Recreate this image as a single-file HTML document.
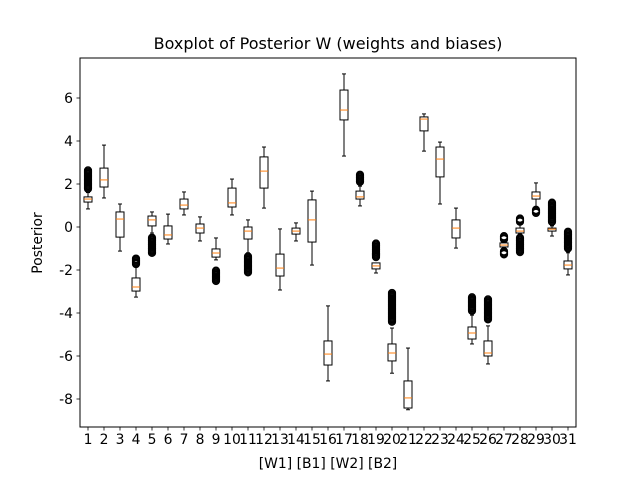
<!DOCTYPE html>
<html><head><meta charset="utf-8"><style>
body{margin:0;background:#fff;}
svg{display:block;font-family:"DejaVu Sans","Liberation Sans",sans-serif;}
</style></head><body>
<svg id="chart" width="640" height="480" xmlns="http://www.w3.org/2000/svg">
<rect width="640" height="480" fill="#fff"/>
<text x="328" y="49" text-anchor="middle" font-size="16">Boxplot of Posterior W (weights and biases)</text>
<text x="328" y="468" text-anchor="middle" font-size="13.9">[W1] [B1] [W2] [B2]</text>
<text transform="translate(42,243) rotate(-90)" text-anchor="middle" font-size="13.9">Posterior</text>
<g id="plot"></g>
<rect x="80" y="58" width="496" height="369" fill="none" stroke="#000" stroke-width="1"/>
</svg>
<script>
const categories = Array.from({length:31},(_,i)=>String(i+1));
const whiskerLo = [0.84,1.35,-1.12,-3.26,-0.28,-0.79,0.56,-0.65,-1.53,0.56,-1.2,0.88,-2.93,-0.65,-1.77,-7.16,3.3,0.98,-2.14,-6.8,-8.5,3.53,1.07,-0.98,-5.44,-6.37,-1.07,-0.33,0.93,-0.42,-2.23];
const q1 = [1.16,1.86,-0.47,-2.98,0.05,-0.56,0.84,-0.28,-1.4,0.93,-0.56,1.81,-2.28,-0.33,-0.7,-6.42,4.98,1.3,-1.95,-6.23,-8.42,4.47,2.33,-0.51,-5.21,-6.0,-0.93,-0.28,1.3,-0.19,-1.95];
const medians = [1.3,2.19,0.37,-2.79,0.33,-0.37,1.02,-0.05,-1.21,1.12,-0.19,2.6,-1.91,-0.19,0.33,-5.91,5.44,1.4,-1.81,-5.86,-7.95,5.02,3.16,-0.05,-4.93,-5.86,-0.84,-0.19,1.44,-0.1,-1.77];
const q3 = [1.4,2.74,0.7,-2.37,0.51,0.05,1.3,0.14,-1.02,1.81,0.0,3.26,-1.26,-0.05,1.26,-5.3,6.37,1.67,-1.67,-5.44,-7.16,5.12,3.72,0.33,-4.65,-5.3,-0.74,-0.05,1.63,-0.05,-1.58];
const whiskerHi = [1.6,3.81,1.07,-1.86,0.7,0.6,1.63,0.47,-0.51,2.23,0.33,3.72,-0.09,0.19,1.67,-3.67,7.12,1.9,-1.7,-4.7,-5.63,5.26,3.95,0.88,-4.1,-4.6,-0.6,0.19,2.05,0.05,-1.2];
const fliersA = [[1.6,2.8],null,null,[-1.9,-1.3],[-1.4,-0.33],null,null,null,[-2.7,-1.86],null,[-2.3,-1.2],null,null,null,null,null,null,[1.9,2.6],[-1.6,-0.6],[-4.6,-2.9],null,null,null,null,[-4.1,-3.1],[-4.5,-3.2],[-0.66,-0.34],[0.14,0.5],[0.45,0.97],[0.05,1.3],[-1.2,-0.05]];
const fliersB = [null,null,null,null,null,null,null,null,null,null,null,null,null,null,null,null,null,null,null,null,null,null,null,null,null,null,[-1.38,-1.02],[-1.35,-0.33],null,null,null];
const yTicks = [-8,-6,-4,-2,0,2,4,6];

const X0=80,X1=576,Y0=427,Y1=58;
const xs = i => X0 + (i+0.5)*(X1-X0)/categories.length;
const ys = v => 227 - v*21.5;
const NS='http://www.w3.org/2000/svg';
const plot=document.getElementById('plot');
function mk(tag,attrs){const e=document.createElementNS(NS,tag);for(const k in attrs)e.setAttribute(k,attrs[k]);plot.appendChild(e);return e;}

yTicks.forEach(t=>{
  const y=ys(t);
  const l=mk('line',{x1:X0-3.5,x2:X0,y1:y,y2:y,stroke:'#000','stroke-width':0.8});
  
  
  const tx=mk('text',{x:X0-7,y:y+5,'text-anchor':'end','font-size':13.9});
  tx.textContent=t;
  
  
});
categories.forEach((c,i)=>{
  const x=xs(i);
  const l=mk('line',{x1:x,x2:x,y1:Y0,y2:Y0+3.5,stroke:'#000','stroke-width':0.8});
  
  
  const tx=mk('text',{x:x,y:Y0+17,'text-anchor':'middle','font-size':13.9});
  tx.textContent=c;
  
  
});
const bw=8,cw=4,r=3.6;
categories.forEach((c,i)=>{
  const x=xs(i);
  const g=document.createElementNS(NS,'g');plot.appendChild(g);
  
  
  const add=(tag,a)=>{const e=document.createElementNS(NS,tag);for(const k in a)e.setAttribute(k,a[k]);g.appendChild(e);return e;};
  [fliersA[i],fliersB[i]].forEach(f=>{
    if(!f)return;
    let top=ys(f[1])+r, bot=ys(f[0])-r;
    if(bot-top<3.2){const m=(top+bot)/2;top=m-1.6;bot=m+1.6;}
    for(let y=top;y<=bot+1e-6;y+=0.8){
      add('circle',{cx:x,cy:y,r:r,fill:'none',stroke:'#000','stroke-width':1});
    }
  });
  add('line',{x1:x,x2:x,y1:ys(q3[i]),y2:ys(whiskerHi[i]),stroke:'#000','stroke-width':1});
  add('line',{x1:x,x2:x,y1:ys(q1[i]),y2:ys(whiskerLo[i]),stroke:'#000','stroke-width':1});
  add('line',{x1:x-cw/2,x2:x+cw/2,y1:ys(whiskerHi[i]),y2:ys(whiskerHi[i]),stroke:'#000','stroke-width':1});
  add('line',{x1:x-cw/2,x2:x+cw/2,y1:ys(whiskerLo[i]),y2:ys(whiskerLo[i]),stroke:'#000','stroke-width':1});
  add('rect',{x:x-bw/2,y:ys(q3[i]),width:bw,height:Math.max(ys(q1[i])-ys(q3[i]),0.5),fill:'#fff',stroke:'#000','stroke-width':1});
  add('line',{x1:x-bw/2,x2:x+bw/2,y1:ys(medians[i]),y2:ys(medians[i]),stroke:'#ff7f0e','stroke-width':1});
});
</script>
</body></html>
